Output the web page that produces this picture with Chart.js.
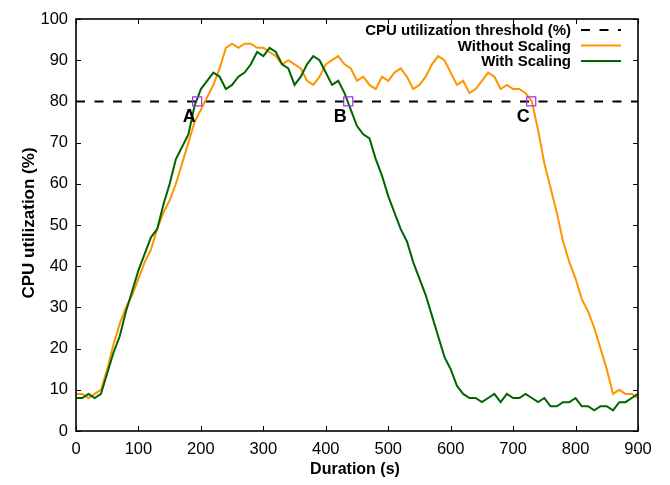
<!DOCTYPE html>
<html><head><meta charset="utf-8">
<script src="https://cdn.jsdelivr.net/npm/chart.js@4"></script>
<style>html,body{margin:0;padding:0;background:#fff}#wrap{width:670px;height:485px}</style>
</head><body><div id="wrap"><canvas id="c" width="670" height="485"></canvas></div>
<script>
const durations = [0,10,20,30,40,50,60,70,80,90,100,110,120,130,140,150,160,170,180,190,200,210,220,230,240,250,260,270,280,290,300,310,320,330,340,350,360,370,380,390,400,410,420,430,440,450,460,470,480,490,500,510,520,530,540,550,560,570,580,590,600,610,620,630,640,650,660,670,680,690,700,710,720,730,740,750,760,770,780,790,800,810,820,830,840,850,860,870,880,890,900];
const withoutScaling = [9,9,8,9,10,15,21,26,30,33,37,41,44,49,53,56,60,65,70,75,78,81,84,88,93,94,93,94,94,93,93,92,91,89,90,89,88,85,84,86,89,90,91,89,88,85,86,84,83,86,85,87,88,86,83,84,86,89,91,90,87,84,85,82,83,85,87,86,83,84,83,83,82,80,73,65,59,53,46,41,37,32,29,25,20,15,9,10,9,9,8];
const withScaling = [8,8,9,8,9,14,19,23,29,34,39,43,47,49,55,60,66,69,72,79,83,85,87,86,83,84,86,87,89,92,91,93,92,89,88,84,86,89,91,90,87,84,85,82,78,74,72,71,66,62,57,53,49,46,41,37,33,28,23,18,15,11,9,8,8,7,8,9,7,9,8,8,9,8,7,8,6,6,7,7,8,6,6,5,6,6,5,7,7,8,9];
const thresholdX = [0, 900];
const thresholdY = [80, 80];
const crossLabels = ['A','B','C'];
const crossX = [194, 436, 729];
const crossY = [80, 80, 80];
const xTicks = {min:0, max:900, step:100};
const yTicks = {min:0, max:100, step:10};
const seriesNames = ['CPU utilization threshold (%)','Without Scaling','With Scaling'];

const ORANGE = '#ff9400', GREEN = '#006400', PURPLE = '#a030e8';

const decor = {
  id: 'decor',
  afterDatasetsDraw(chart) {
    const {ctx, chartArea: a, scales: {x, y}} = chart;
    ctx.save();
    ctx.strokeStyle = '#000';
    ctx.lineWidth = 1;
    ctx.beginPath();
    x.ticks.forEach(t => {
      const px = Math.round(x.getPixelForValue(t.value)) + 0.5;
      ctx.moveTo(px, a.bottom); ctx.lineTo(px, a.bottom - 5);
      ctx.moveTo(px, a.top); ctx.lineTo(px, a.top + 5);
    });
    y.ticks.forEach(t => {
      const py = Math.round(y.getPixelForValue(t.value)) + 0.5;
      ctx.moveTo(a.left, py); ctx.lineTo(a.left + 5, py);
      ctx.moveTo(a.right, py); ctx.lineTo(a.right - 5, py);
    });
    ctx.stroke();
    ctx.lineWidth = 1.6;
    ctx.strokeRect(a.left, a.top, a.right - a.left, a.bottom - a.top);

    // point labels A B C
    ctx.fillStyle = '#000';
    ctx.font = 'bold 18px "Liberation Sans", Arial, sans-serif';
    ctx.textAlign = 'center';
    ctx.textBaseline = 'middle';
    crossLabels.forEach((l, i) => {
      const px = x.getPixelForValue(crossX[i]);
      const py = y.getPixelForValue(crossY[i]);
      ctx.fillText(l, px - 8, py + 16);
    });

    // legend
    ctx.font = 'bold 15px "Liberation Sans", Arial, sans-serif';
    ctx.textAlign = 'right';
    const rows = [30, 45.5, 61];
    const styles = [{c:'#000', d:[9,9.5]}, {c:ORANGE, d:[]}, {c:GREEN, d:[]}];
    seriesNames.forEach((n, i) => {
      ctx.fillStyle = '#000';
      ctx.fillText(n, 571, rows[i] + 1);
      ctx.strokeStyle = styles[i].c;
      ctx.lineWidth = 2;
      ctx.setLineDash(styles[i].d);
      ctx.beginPath();
      ctx.moveTo(581, rows[i]); ctx.lineTo(621, rows[i]);
      ctx.stroke();
      ctx.setLineDash([]);
    });

    // axis titles
    ctx.textAlign = 'center';
    ctx.textBaseline = 'middle';
    ctx.font = 'bold 16px "Liberation Sans", Arial, sans-serif';
    ctx.fillText('Duration (s)', (a.left + a.right) / 2 - 2, 470);
    ctx.font = 'bold 17px "Liberation Sans", Arial, sans-serif';
    ctx.translate(29, (a.top + a.bottom) / 2 - 2);
    ctx.rotate(-Math.PI / 2);
    ctx.fillText('CPU utilization (%)', 0, 0);
    ctx.restore();
  }
};

const pts = (xs, ys) => xs.map((v, i) => ({x: v, y: ys[i]}));

new Chart(document.getElementById('c'), {
  type: 'line',
  data: {
    datasets: [
      {label: seriesNames[0], data: pts(thresholdX, thresholdY), borderColor: '#000', borderWidth: 2, borderDash: [9, 9.5], pointRadius: 0, order: 3},
      {label: seriesNames[1], data: pts(durations, withoutScaling), borderColor: ORANGE, borderWidth: 2, pointRadius: 0, tension: 0, order: 2},
      {label: seriesNames[2], data: pts(durations, withScaling), borderColor: GREEN, borderWidth: 2, pointRadius: 0, tension: 0, order: 1},
      {label: 'crossings', type: 'scatter', data: pts(crossX, crossY), showLine: false, pointStyle: 'rect', pointRadius: 6.4, borderColor: PURPLE, borderWidth: 1.2, backgroundColor: 'rgba(0,0,0,0)', order: 0}
    ]
  },
  options: {
    responsive: false,
    animation: false,
    devicePixelRatio: 1,
    layout: {padding: {top: 19, right: 32, left: 0, bottom: 0}},
    plugins: {legend: {display: false}, tooltip: {enabled: false}},
    scales: {
      x: {
        type: 'linear', min: xTicks.min, max: xTicks.max,
        ticks: {stepSize: xTicks.step, color: '#000', padding: 9, maxRotation: 0, font: {family: '"Liberation Sans", Arial, sans-serif', size: 16.5}},
        grid: {display: false, drawTicks: false},
        border: {display: false},
        afterFit: s => { s.height = 54; }
      },
      y: {
        type: 'linear', min: yTicks.min, max: yTicks.max,
        ticks: {stepSize: yTicks.step, color: '#000', padding: 8, font: {family: '"Liberation Sans", Arial, sans-serif', size: 16.5}},
        grid: {display: false, drawTicks: false},
        border: {display: false},
        afterFit: s => { s.width = 76; }
      }
    }
  },
  plugins: [decor]
});
</script>
</body></html>
